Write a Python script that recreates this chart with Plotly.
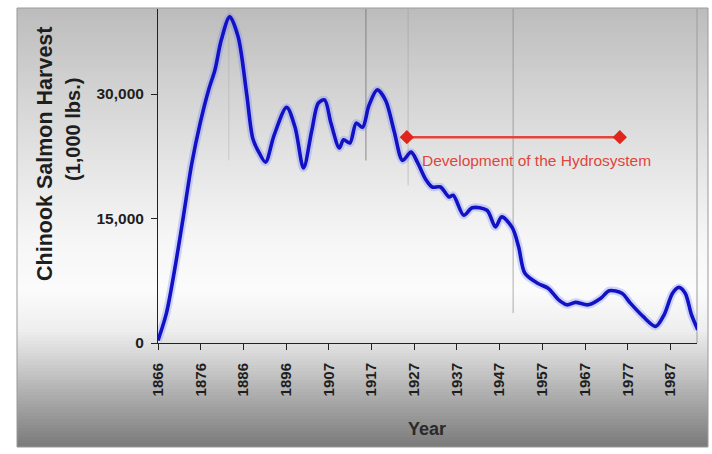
import plotly.graph_objects as go

# Chinook salmon harvest, Columbia River (1,000 lbs.)
years = [1866, 1868, 1870, 1872, 1874, 1876, 1878, 1879.5, 1881, 1883, 1885, 1887,
         1888.5, 1890, 1891.5, 1893.5, 1896.5, 1898.5, 1900.5, 1902.5, 1904, 1905.5,
         1907, 1909, 1910, 1911.5, 1913, 1914.5, 1916, 1918, 1920, 1922, 1924, 1926,
         1927.5, 1929.5, 1931, 1933, 1935, 1936, 1938.5, 1940.5, 1944, 1946, 1947.5,
         1950, 1951.5, 1953, 1956, 1958.5, 1961, 1963, 1965, 1968, 1971, 1973, 1976,
         1978, 1981, 1984, 1986, 1988, 1989.5, 1991, 1992.5, 1994]
harvest = [300, 3600, 9000, 15200, 21600, 26500, 30500, 32900, 36500, 39300, 36900, 30100,
           24600, 22900, 21800, 25000, 28400, 26000, 21100, 25700, 28900, 29300,
           26500, 23500, 24500, 24100, 26500, 26000, 28600, 30500, 29200, 25500, 22000, 23000,
           21800, 19700, 18800, 18800, 17600, 17800, 15400, 16300, 16000, 14000, 15200,
           13900, 11600, 8400, 7200, 6600, 5200, 4600, 4900, 4600, 5400, 6300, 6000,
           4800, 3200, 2000, 3400, 6000, 6700, 6000, 3400, 1600]

# Hydrosystem development period
hydro_years = [1925, 1975.5]
hydro_level = [24800, 24800]
hydro_label = "Development of the Hydrosystem"

x_tick_labels = ["1866", "1876", "1886", "1896", "1907", "1917", "1927",
                 "1937", "1947", "1957", "1967", "1977", "1987"]
y_tick_values = [0, 15000, 30000]
y_tick_labels = ["0", "15,000", "30,000"]

# faint vertical rules behind the curve: (year, lower end, colour)
rules = [(1882.8, 22000, "rgba(150,150,150,0.35)"),
         (1915.3, 22000, "rgba(110,110,110,0.75)"),
         (1925.3, 19000, "rgba(150,150,150,0.45)"),
         (1950.2, 3600, "rgba(120,120,120,0.6)")]

W, H = 712, 454
L, R, T, B = 158, 697, 9, 343          # plot area in pixels
X_RANGE = [1866, 1993.8]
Y_RANGE = [0, 40250]


def px_x(p):
    return (p - L) / (R - L)


def px_y(p):
    return (B - p) / (B - T)


# vertical background gradient of the framed panel
stops = [(8, 188), (80, 208), (160, 228), (240, 246), (290, 251), (330, 238),
         (360, 210), (400, 168), (447, 122)]


def grey_at(py):
    for (y0, g0), (y1, g1) in zip(stops, stops[1:]):
        if y0 <= py <= y1:
            return round(g0 + (g1 - g0) * (py - y0) / (y1 - y0))
    return stops[-1][1]


shapes = []
FL, FR, FT, FB = 17, 708, 8, 447
step = 3
py = FT
while py < FB:
    g = grey_at(py + step / 2)
    shapes.append(dict(type="rect", xref="paper", yref="paper",
                       x0=px_x(FL), x1=px_x(FR), y0=px_y(min(py + step, FB)), y1=px_y(py),
                       fillcolor=f"rgb({g},{g},{g})", line=dict(width=0), layer="below"))
    py += step
# panel border
shapes.append(dict(type="rect", xref="paper", yref="paper",
                   x0=px_x(FL), x1=px_x(FR), y0=px_y(FB), y1=px_y(FT),
                   line=dict(color="#9a9a9a", width=1), layer="below"))
# right edge of plotting region
shapes.append(dict(type="line", xref="paper", yref="paper", x0=1, x1=1, y0=0, y1=1,
                   line=dict(color="#9c9c9c", width=1), layer="below"))
for yr, low, col in rules:
    shapes.append(dict(type="line", xref="x", yref="y", x0=yr, x1=yr, y0=low, y1=Y_RANGE[1],
                       line=dict(color=col, width=1), layer="below"))

fig = go.Figure()

# soft halo under the main line
fig.add_trace(go.Scatter(x=years, y=harvest, mode="lines",
                         line=dict(color="rgba(110,125,255,0.3)", width=8,
                                   shape="spline", smoothing=0.85),
                         hoverinfo="skip", showlegend=False))
fig.add_trace(go.Scatter(x=years, y=harvest, mode="lines",
                         line=dict(color="#1212c4", width=3.6, shape="spline", smoothing=0.85),
                         showlegend=False))

fig.add_trace(go.Scatter(x=hydro_years, y=hydro_level, mode="lines+markers",
                         line=dict(color="#e4443a", width=2.4),
                         marker=dict(symbol="diamond", size=11, color="#e0261c"),
                         showlegend=False))

annotations = [
    dict(x=hydro_years[0], y=hydro_level[0], xref="x", yref="y", text=hydro_label,
         showarrow=False, xanchor="left", yanchor="middle", xshift=13, yshift=-23,
         font=dict(family="Liberation Sans, Arial", size=15.5, color="#e0453c")),
    dict(x=px_x(45), y=px_y(154), xref="paper", yref="paper", text="<b>Chinook Salmon Harvest</b>",
         textangle=-90, showarrow=False, xanchor="center", yanchor="middle",
         font=dict(family="Liberation Sans, Arial", size=21.5, color="#1e1e1e")),
    dict(x=px_x(73), y=px_y(130), xref="paper", yref="paper", text="<b>(1,000 lbs.)</b>",
         textangle=-90, showarrow=False, xanchor="center", yanchor="middle",
         font=dict(family="Liberation Sans, Arial", size=20, color="#1e1e1e")),
    dict(x=px_x(427), y=px_y(429), xref="paper", yref="paper", text="<b>Year</b>",
         showarrow=False, xanchor="center", yanchor="middle",
         font=dict(family="Liberation Sans, Arial", size=18, color="#2a2a2a")),
]

tick_step = 10.125
x_tick_vals = [X_RANGE[0] + i * tick_step for i in range(len(x_tick_labels))]

fig.update_layout(
    width=W, height=H,
    margin=dict(l=L, r=W - R, t=T, b=H - B, pad=0),
    paper_bgcolor="white",
    plot_bgcolor="rgba(0,0,0,0)",
    shapes=shapes,
    annotations=annotations,
    showlegend=False,
    xaxis=dict(range=X_RANGE, tickvals=x_tick_vals, ticktext=[f"<b>{t}</b>" for t in x_tick_labels],
               tickangle=-90, ticks="outside", ticklen=6, tickcolor="#222", ticklabelstandoff=7,
               showline=True, linecolor="#222", linewidth=1, showgrid=False, zeroline=False,
               tickfont=dict(family="Liberation Sans, Arial", size=15, color="#1e1e1e")),
    yaxis=dict(range=Y_RANGE, tickvals=y_tick_values, ticktext=[f"<b>{t}</b>" for t in y_tick_labels],
               ticks="outside", ticklen=6, tickcolor="#222", ticklabelstandoff=4,
               showline=True, linecolor="#222", linewidth=1, showgrid=False, zeroline=False,
               tickfont=dict(family="Liberation Sans, Arial", size=15.5, color="#1e1e1e")),
)

fig.write_html("out.html")
